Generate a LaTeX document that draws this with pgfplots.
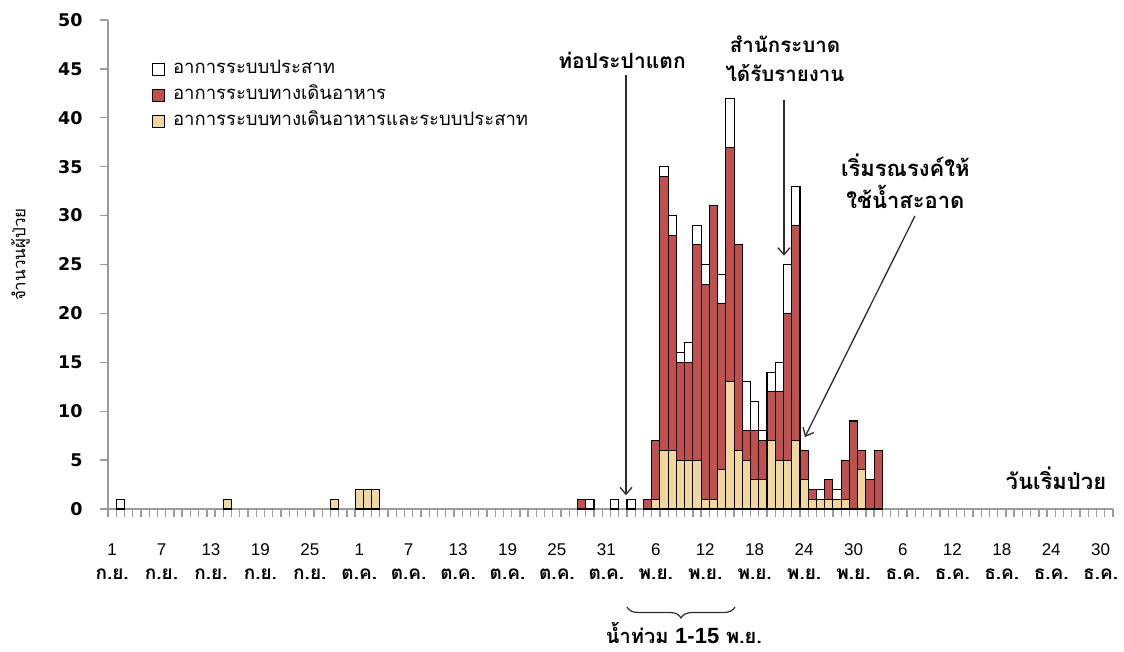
\documentclass[border=0pt]{standalone}
\usepackage{fontspec}
\usepackage{pgfplots}
\usepackage{pgfplotstable}
\pgfplotsset{compat=1.18}
\usetikzlibrary{arrows.meta,decorations.pathreplacing}
\setmainfont{Liberation Sans}
\newfontfamily\thai[Script=Thai]{Loma}
\newfontfamily\dejavu{DejaVu Sans}
\definecolor{cred}{RGB}{192,80,77}
\definecolor{ctan}{RGB}{240,215,158}
\definecolor{axgray}{RGB}{155,155,155}
\definecolor{arr}{RGB}{45,45,45}
\newcommand{\xl}[2]{#1\\{\thai\bfseries\fontsize{19}{24}\selectfont #2}}
\pgfplotsset{sqlegend/.style={legend image code/.code={\draw[##1,line width=1.2pt] (0pt,-6pt) rectangle (12pt,6pt); \path (17pt,0pt);}}}

\pgfplotstableread{
i tan red white
1 0 0 1
14 1 0 0
27 1 0 0
30 2 0 0
31 2 0 0
32 2 0 0
57 0 1 0
58 0 0 1
61 0 0 1
63 0 0 1
65 0 1 0
66 1 6 0
67 6 28 1
68 6 22 2
69 5 10 1
70 5 10 2
71 5 22 2
72 1 22 2
73 1 30 0
74 4 17 3
75 13 24 5
76 6 21 0
77 5 3 5
78 3 5 3
79 3 4 1
80 7 5 2
81 5 7 3
82 5 15 5
83 7 22 4
84 3 3 0
85 1 1 0
86 1 0 1
87 1 2 0
88 1 0 1
89 1 4 0
90 0 9 0
91 4 2 0
92 0 3 0
93 0 6 0
}\casedata

\begin{document}
\begin{tikzpicture}[x=1pt,y=1pt]
\useasboundingbox (-108,-142) rectangle (1016,509);
\begin{axis}[
  at={(0,0)}, anchor=south west,
  scale only axis, width=1005pt, height=489pt,
  xmin=-0.5, xmax=121.5, ymin=0, ymax=50,
  clip=false,
  axis x line*=bottom, axis y line*=left,
  axis line style={draw=axgray, line width=1.3pt},
  tick style={draw=axgray, line width=1.3pt},
  tick align=outside,
  major tick length=8pt,
  /pgf/number format/assume math mode=true,
  ytick={0,5,...,50},
  yticklabel style={font=\dejavu\bfseries\fontsize{17.5}{20}\selectfont, xshift=-14pt},
  xtick={-0.5,0.5,...,121.5},
  xticklabels={},
  extra x ticks={0,6,...,120},
  extra x tick labels={\xl{1}{ก.ย.},\xl{7}{ก.ย.},\xl{13}{ก.ย.},\xl{19}{ก.ย.},\xl{25}{ก.ย.},\xl{1}{ต.ค.},\xl{7}{ต.ค.},\xl{13}{ต.ค.},\xl{19}{ต.ค.},\xl{25}{ต.ค.},\xl{31}{ต.ค.},\xl{6}{พ.ย.},\xl{12}{พ.ย.},\xl{18}{พ.ย.},\xl{24}{พ.ย.},\xl{30}{พ.ย.},\xl{6}{ธ.ค.},\xl{12}{ธ.ค.},\xl{18}{ธ.ค.},\xl{24}{ธ.ค.},\xl{30}{ธ.ค.}},
  extra x tick style={major tick length=0pt, tick label style={font=\fontsize{17}{24}\selectfont, align=center, anchor=north, yshift=-31pt}},
  ybar stacked, bar width=1,
  ylabel={\thai\fontsize{17}{18}\selectfont จำนวนผู้ป่วย},
  ylabel style={at={(axis description cs:-0.087,0.52)}, anchor=center},
  legend style={at={(axis description cs:0.0405,0.927)}, anchor=north west, draw=none, fill=none, font=\thai\fontsize{18.5}{20}\selectfont, row sep=2pt, nodes={text height=13pt, text depth=5pt, inner sep=3pt}},
  legend cell align=left,
  reverse legend,
]
\addplot[fill=ctan, draw=black, line width=1.1pt, sqlegend] table[x=i,y=tan]{\casedata};
\addplot[fill=cred, draw=black, line width=1.1pt, sqlegend] table[x=i,y=red]{\casedata};
\addplot[fill=white, draw=black, line width=1.1pt, sqlegend] table[x=i,y=white]{\casedata};
\legend{อาการระบบทางเดินอาหารและระบบประสาท, อาการระบบทางเดินอาหาร, อาการระบบประสาท}

\draw[arr, line width=1.3pt, -{Straight Barb[length=7pt,width=12pt]}] (axis cs:62.38,44.4) -- (axis cs:62.38,1.4);
\node[font=\thai\bfseries\fontsize{21}{24}\selectfont] at (axis cs:61.9,45.9) {ท่อประปาแตก};
\draw[arr, line width=1.3pt, -{Straight Barb[length=7pt,width=12pt]}] (axis cs:81.56,41.8) -- (axis cs:81.56,25.9);
\node[align=center, font=\thai\bfseries\fontsize{20.5}{29}\selectfont] at (axis cs:81.68,46.0) {สำนักระบาด\\ได้รับรายงาน};
\draw[arr, line width=1.3pt, -{Straight Barb[length=7pt,width=12pt]}] (axis cs:97.46,29.96) -- (axis cs:84.1,7.36);
\node[align=center, font=\thai\bfseries\fontsize{22}{32}\selectfont] at (axis cs:96.3,33.5) {เริ่มรณรงค์ให้\\ใช้น้ำสะอาด};
\node[anchor=east, font=\thai\bfseries\fontsize{22}{24}\selectfont] at (axis cs:121.1,3.17) {วันเริ่มป่วย};
\end{axis}
\draw[arr, line width=1.2pt, decorate, decoration={brace, mirror, amplitude=11pt}] (519,-98) -- (627,-98);
\node[inner sep=1pt, font=\thai\bfseries\fontsize{20}{22}\selectfont] at (576,-124.5) {น้ำท่วม {\rmfamily\bfseries\fontsize{22}{24}\selectfont 1-15} พ.ย.};
\end{tikzpicture}
\end{document}
